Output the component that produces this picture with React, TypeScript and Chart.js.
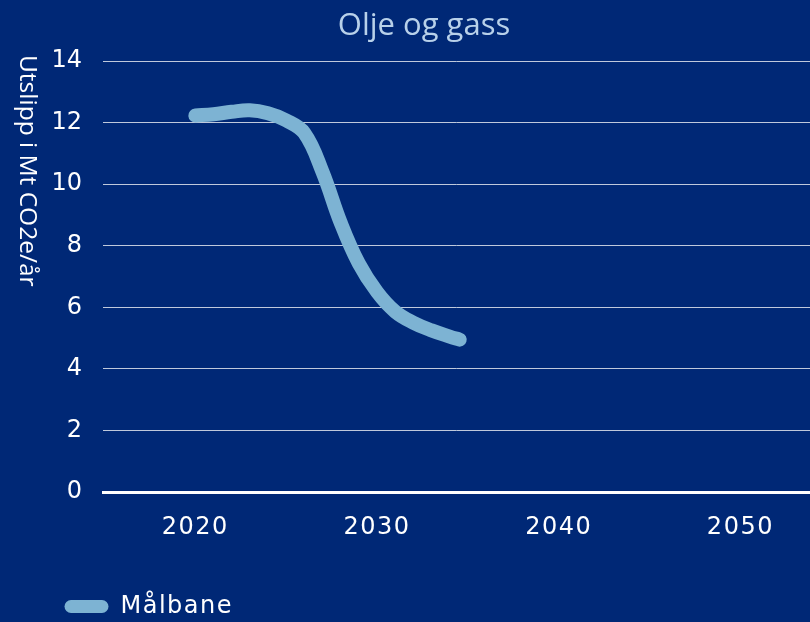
import React, { useEffect, useRef } from "react";
import { Chart, registerables } from "chart.js";

Chart.register(...registerables);

const TITLE = "Olje og gass";
const Y_TITLE = "Utslipp i Mt CO2e/år";
const SERIES_LABEL = "Målbane";
const years = [2020, 2021, 2022, 2023, 2024, 2025, 2026, 2027, 2028, 2029, 2030, 2031, 2032, 2033, 2034, 2034.55];
const malbane = [12.23, 12.27, 12.35, 12.4, 12.3, 12.07, 11.66, 10.4, 8.75, 7.42, 6.5, 5.86, 5.5, 5.25, 5.05, 4.95];
const xTicks = [2020, 2030, 2040, 2050];
const yTicks = [0, 2, 4, 6, 8, 10, 12, 14];

const BG = "#002876";
const LINE = "#7db3d3";
const TICK_FONT = "DejaVu Sans";
const PAD_LEFT = 10;
const LEGEND_LEFT = 60;

export default function App() {
  const ref = useRef<HTMLCanvasElement | null>(null);

  useEffect(() => {
    const canvas = ref.current;
    if (!canvas) return;

    const withSpacing = (obj: any, method: string, spacing: string) => {
      if (!obj || obj["__sp_" + method]) return;
      const orig = obj[method];
      obj[method] = function (...args: any[]) {
        const c = this.ctx;
        const prev = c.letterSpacing;
        c.letterSpacing = spacing;
        const r = orig.apply(this, args);
        c.letterSpacing = prev || "0px";
        return r;
      };
      obj["__sp_" + method] = true;
    };

    const decor = {
      id: "decor",
      afterLayout(chart: any) {
        const lg = chart.legend;
        if (lg) {
          lg.top += 6.5;
          lg.bottom += 6.5;
          lg.left += LEGEND_LEFT - PAD_LEFT;
          lg.right += LEGEND_LEFT - PAD_LEFT;
        }
      },
      beforeDraw(chart: any) {
        const ctx = chart.ctx;
        ctx.save();
        ctx.fillStyle = BG;
        ctx.fillRect(0, 0, chart.width, chart.height);
        ctx.restore();
        withSpacing(chart.scales.x, "drawLabels", "1.5px");
        withSpacing(chart.legend, "draw", "1.5px");
      },
      afterDraw(chart: any) {
        const ctx = chart.ctx;
        ctx.save();
        ctx.fillStyle = "#b8d1ea";
        ctx.font = "31px 'Open Sans'";
        ctx.textAlign = "center";
        ctx.textBaseline = "alphabetic";
        ctx.fillText(TITLE, 424, 35);
        ctx.translate(20, 55);
        ctx.rotate(Math.PI / 2);
        ctx.fillStyle = "#ffffff";
        ctx.font = "24.5px 'Open Sans'";
        ctx.textAlign = "left";
        ctx.fillText(Y_TITLE, 0, 0);
        ctx.restore();
      },
    };

    const chart = new Chart(canvas, {
      type: "line",
      data: {
        datasets: [
          {
            label: SERIES_LABEL,
            data: years.map((x, i) => ({ x, y: malbane[i] })),
            borderColor: LINE,
            backgroundColor: LINE,
            borderWidth: 14,
            borderCapStyle: "round",
            borderJoinStyle: "round",
            pointRadius: 0,
            tension: 0.4,
            fill: false,
            clip: false as any,
          },
        ],
      },
      options: {
        animation: false,
        responsive: false,
        layout: { padding: { left: PAD_LEFT, top: 61, right: 0, bottom: 0 } },
        plugins: {
          title: { display: false },
          tooltip: { enabled: false },
          legend: {
            display: true,
            position: "bottom",
            align: "start",
            labels: {
              color: "#ffffff",
              font: { family: TICK_FONT, size: 24 },
              boxWidth: 44,
              boxHeight: 13,
              padding: 4.5,
              useBorderRadius: true,
              borderRadius: 6.5,
              generateLabels: () => [
                {
                  text: SERIES_LABEL,
                  fillStyle: LINE,
                  strokeStyle: LINE,
                  lineWidth: 0,
                  borderRadius: 6.5,
                  hidden: false,
                  datasetIndex: 0,
                  fontColor: "#ffffff",
                } as any,
              ],
            },
          },
        },
        scales: {
          x: {
            type: "linear",
            min: 2014.92,
            max: 2053.83,
            afterBuildTicks: (scale: any) => {
              scale.ticks = xTicks.map((v) => ({ value: v }));
            },
            afterFit: (scale: any) => {
              scale.height = 91.5;
            },
            grid: { display: false, drawTicks: false },
            border: { display: true, color: "#ffffff", width: 3 },
            ticks: {
              color: "#ffffff",
              font: { family: TICK_FONT, size: 24 },
              padding: 21.5,
              maxRotation: 0,
              callback: (v: any) => String(v),
            },
          },
          y: {
            type: "linear",
            min: 0,
            max: 14,
            afterBuildTicks: (scale: any) => {
              scale.ticks = yTicks.map((v) => ({ value: v }));
            },
            afterFit: (scale: any) => {
              scale.width = 103 - PAD_LEFT;
            },
            grid: { color: "rgba(255,255,255,0.75)", lineWidth: 1, drawTicks: false },
            border: { display: false },
            ticks: {
              color: "#ffffff",
              font: { family: TICK_FONT, size: 24 },
              padding: 21,
            },
          },
        },
      },
      plugins: [decor],
    } as any);

    return () => chart.destroy();
  }, []);

  return (
    <div style={{ position: "fixed", left: 0, top: 0, width: 810, height: 622 }}>
      <canvas ref={ref} width={810} height={622} style={{ display: "block" }} />
    </div>
  );
}
